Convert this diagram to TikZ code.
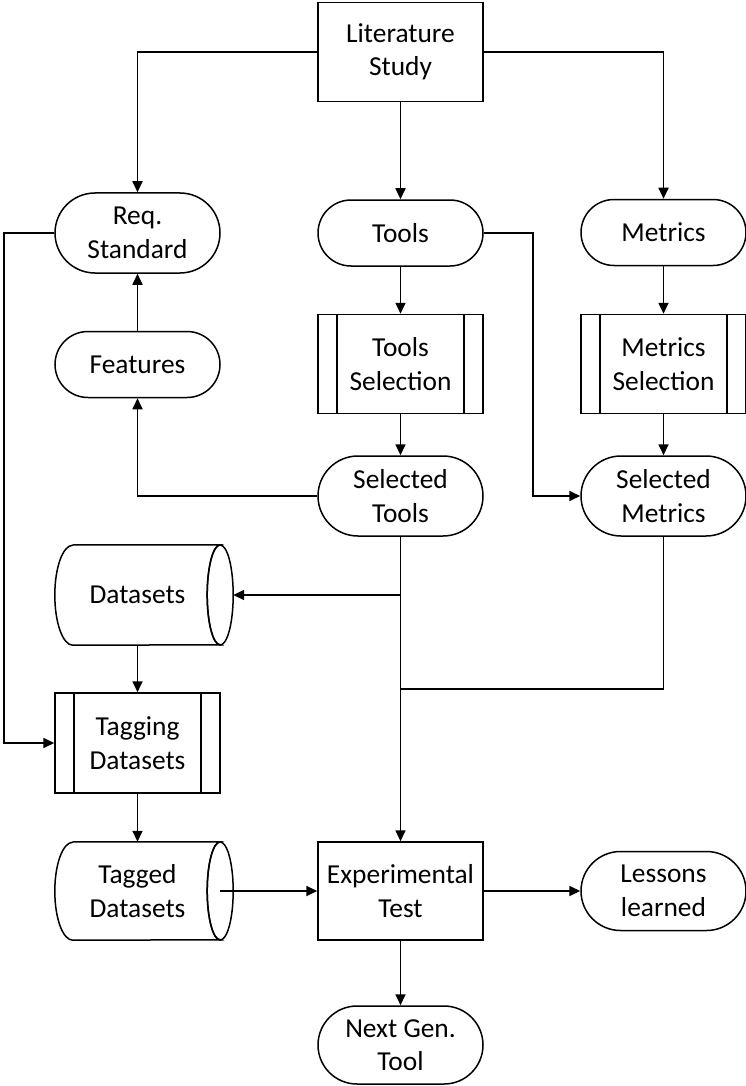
\documentclass[tikz,border=0pt]{standalone}
\usepackage{fontspec}
\setmainfont{Carlito}
\usetikzlibrary{shapes.misc,arrows.meta,calc}

\tikzset{
  base/.style={draw=black, line width=1.5pt, align=center, inner sep=0pt,
    font=\fontsize{27.4pt}{33.5pt}\selectfont, minimum width=165pt},
  procbox/.style={base, rectangle, minimum height=#1},
  terminal/.style={base, rounded rectangle, minimum height=#1},
  predef/.style={base, rectangle, minimum height=#1,
    path picture={
      \draw[line width=1.5pt]
        ([xshift=19pt]path picture bounding box.north west) --
        ([xshift=19pt]path picture bounding box.south west)
        ([xshift=-19pt]path picture bounding box.north east) --
        ([xshift=-19pt]path picture bounding box.south east);}},
  storedtext/.style={align=center, inner sep=0pt, minimum width=165pt,
    minimum height=#1, font=\fontsize{27.4pt}{33.5pt}\selectfont},
  storedline/.style={draw=black, line width=1.5pt},
  conn/.style={draw=black, line width=1.7pt},
  arr/.style={conn, -{Triangle[length=11pt,width=10pt]}},
}

% draws the stored-data outline around a named node
\newcommand{\storedshape}[1]{%
  \draw[storedline]
    ([xshift=18pt]#1.north west) -- (#1.north east)
    arc[start angle=90, end angle=270, x radius=13pt, y radius={0.5*\pgfkeysvalueof{/pgf/minimum height}}]
    -- ([xshift=18pt]#1.south west)
    arc[start angle=270, end angle=90, x radius=18pt, y radius={0.5*\pgfkeysvalueof{/pgf/minimum height}}];
  \draw[storedline] (#1.east) ellipse[x radius=13pt, y radius={0.5*\pgfkeysvalueof{/pgf/minimum height}}];
}

\begin{document}
\begin{tikzpicture}[x=1pt, y=-1pt]
  \useasboundingbox (0,0) rectangle (746,1086);

  % top row
  \node[procbox=99pt] (lit) at (400.5,52) {Literature\\Study};
  \node[terminal=80pt] (req) at (137.5,233) {Req.\\Standard};
  \node[terminal=66pt] (tools) at (400.5,233) {Tools};
  \node[terminal=66pt] (metrics) at (663.5,232.5) {Metrics};

  % selection row
  \node[terminal=66pt] (feat) at (137.5,364.5) {Features};
  \node[predef=99pt] (tsel) at (400.5,364) {Tools\\Selection};
  \node[predef=99pt] (msel) at (663.5,364) {Metrics\\Selection};

  \node[terminal=80pt] (stools) at (400.5,496) {Selected\\Tools};
  \node[terminal=80pt] (smet) at (663.5,496) {Selected\\Metrics};

  % datasets column
  \node[storedtext=100pt] (ds) at (137.5,595) {Datasets};
  \pgfkeys{/pgf/minimum height=100pt}
  \storedshape{ds}
  \node[predef=100pt] (tag) at (137.5,743) {Tagging\\Datasets};
  \node[storedtext=98pt] (tagged) at (137.5,891) {Tagged\\Datasets};
  \pgfkeys{/pgf/minimum height=98pt}
  \storedshape{tagged}

  % bottom row
  \node[procbox=98pt] (exp) at (400.5,891) {Experimental\\Test};
  \node[terminal=79pt] (less) at (663.5,891) {Lessons\\learned};
  \node[terminal=78pt] (next) at (400.5,1045) {Next Gen.\\Tool};

  % junction points on the central trunk
  \coordinate (jds) at (400.5,595);
  \coordinate (jmet) at (400.5,689);

  % connectors
  \draw[arr] (lit.west) -| (req.north);
  \draw[arr] (lit.east) -| (metrics.north);
  \draw[arr] (lit.south) -- (tools.north);

  \draw[arr] (tools.south) -- (tsel.north);
  \draw[arr] (tsel.south) -- (stools.north);
  \draw[arr] (metrics.south) -- (msel.north);
  \draw[arr] (msel.south) -- (smet.north);

  \draw[arr] (feat.north) -- (req.south);
  \draw[arr] (stools.west) -| (feat.south);
  \draw[arr] (tools.east) -- ++(49,0) |- (smet.west);
  \draw[arr] (req.west) -- ++(-50,0) |- (tag.west);

  \draw[arr] (ds.south) -- (tag.north);
  \draw[arr] (tag.south) -- (tagged.north);

  \draw[arr] (stools.south) -- (exp.north);
  \draw[arr] (jds) -- ([xshift=13pt]ds.east);
  \draw[conn] (smet.south) |- (jmet);

  \draw[arr] (tagged.east) -- (exp.west);
  \draw[arr] (exp.east) -- (less.west);
  \draw[arr] (exp.south) -- (next.north);
\end{tikzpicture}
\end{document}
